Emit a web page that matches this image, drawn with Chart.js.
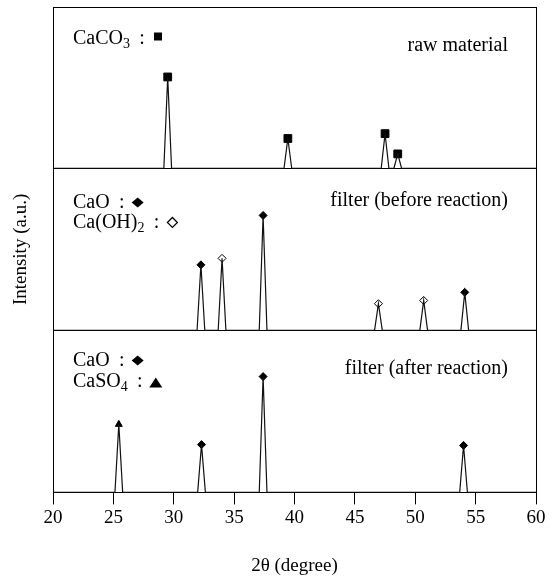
<!DOCTYPE html>
<html>
<head>
<meta charset="utf-8">
<script src="https://cdn.jsdelivr.net/npm/chart.js@4/dist/chart.umd.min.js"></script>
<style>
  body { margin: 0; background: #fff; }
  #wrap { width: 554px; height: 577px; }
</style>
</head>
<body>
<div id="wrap"><canvas id="xrd"></canvas></div>
<script>
// 2theta tick labels
const xTicks = [20, 25, 30, 35, 40, 45, 50, 55, 60];

// raw material
const rawPeaks = [29.5, 39.45, 47.5, 48.55];
const rawInt = [56.5, 18.5, 21.5, 9];
const rawPhase = ['CaCO3', 'CaCO3', 'CaCO3', 'CaCO3'];

// filter (before reaction)
const beforePeaks = [32.25, 34.0, 37.4, 46.95, 50.7, 54.1];
const beforeInt = [40.5, 44.5, 71, 16.5, 18.5, 23.5];
const beforePhase = ['CaO', 'CaOH2', 'CaO', 'CaOH2', 'CaOH2', 'CaO'];

// filter (after reaction)
const afterPeaks = [25.45, 32.3, 37.4, 54.0];
const afterInt = [42, 29.5, 71.5, 29];
const afterPhase = ['CaSO4', 'CaO', 'CaO', 'CaO'];

const FONT = '"Liberation Serif", "Times New Roman", serif';
const halfWidth = 0.32;

const markerStyle = {
  CaCO3: { pointStyle: 'rect', radius: 5.5, fill: '#000' },
  CaO: { pointStyle: 'rectRot', radius: 4, fill: '#000' },
  CaOH2: { pointStyle: 'rectRot', radius: 4, fill: '#fff' },
  CaSO4: { pointStyle: 'triangle', radius: 4, fill: '#000' }
};

function profile(pos, h) {
  const pts = [{ x: 20, y: 0 }];
  pos.forEach((p, i) => {
    pts.push({ x: p - halfWidth, y: 0 }, { x: p, y: h[i] }, { x: p + halfWidth, y: 0 });
  });
  pts.push({ x: 60, y: 0 });
  return pts;
}

function markers(pos, h, phase, axis) {
  const sets = [];
  Object.keys(markerStyle).forEach(ph => {
    const pts = [];
    pos.forEach((p, i) => { if (phase[i] == ph) pts.push({ x: p, y: h[i] }); });
    if (!pts.length) return;
    const st = markerStyle[ph];
    sets.push({
      data: pts, yAxisID: axis, showLine: false, clip: false,
      pointStyle: st.pointStyle, pointRadius: st.radius,
      pointBackgroundColor: st.fill, pointBorderColor: '#000', pointBorderWidth: 1
    });
  });
  return sets;
}

function lineSet(pos, h, axis) {
  return {
    data: profile(pos, h), yAxisID: axis, showLine: true,
    borderColor: '#111', borderWidth: 1.2, pointRadius: 0, tension: 0
  };
}

const datasets = [
  lineSet(rawPeaks, rawInt, 'yTop'),
  lineSet(beforePeaks, beforeInt, 'yMid'),
  lineSet(afterPeaks, afterInt, 'yBot')
].concat(
  markers(rawPeaks, rawInt, rawPhase, 'yTop'),
  markers(beforePeaks, beforeInt, beforePhase, 'yMid'),
  markers(afterPeaks, afterInt, afterPhase, 'yBot')
);

// panel captions; legend lines are [formula parts, symbol, baseline offset]
const panels = [
  { axis: 'yTop', name: 'raw material', nameDy: 44,
    legend: [[[['CaCO', 0], ['3', 1]], 'square', 37]] },
  { axis: 'yMid', name: 'filter (before reaction)', nameDy: 38,
    legend: [[[['CaO', 0]], 'diamond', 40], [[['Ca(OH)', 0], ['2', 1]], 'open', 60]] },
  { axis: 'yBot', name: 'filter (after reaction)', nameDy: 44,
    legend: [[[['CaO', 0]], 'diamond', 36], [[['CaSO', 0], ['4', 1]], 'triangle', 57]] }
];

function drawSymbol(ctx, kind, cx, base) {
  ctx.save();
  ctx.fillStyle = '#000';
  ctx.strokeStyle = '#000';
  ctx.lineWidth = 1.2;
  ctx.beginPath();
  if (kind == 'square') {
    ctx.rect(cx - 4, base - 11, 8, 8);
    ctx.fill();
  } else if (kind == 'diamond' || kind == 'open') {
    const cy = base - 6, w = kind == 'open' ? 5 : 6, hh = 5;
    ctx.moveTo(cx - w, cy); ctx.lineTo(cx, cy - hh); ctx.lineTo(cx + w, cy); ctx.lineTo(cx, cy + hh);
    ctx.closePath();
    if (kind == 'open') ctx.stroke(); else ctx.fill();
  } else if (kind == 'triangle') {
    ctx.moveTo(cx - 6.5, base); ctx.lineTo(cx, base - 10); ctx.lineTo(cx + 6.5, base);
    ctx.closePath();
    ctx.fill();
  }
  ctx.restore();
}

const decorations = {
  id: 'decorations',
  beforeDatasetsDraw(chart) {
    const ctx = chart.ctx, ca = chart.chartArea;
    ctx.save();
    ctx.strokeStyle = '#000';
    ctx.lineWidth = 1;
    panels.forEach(p => {
      const s = chart.scales[p.axis];
      const l = Math.round(ca.left) + 0.5, r = Math.round(ca.right) + 0.5;
      const t = Math.round(s.top) + 0.5, b = Math.round(s.bottom) + 0.5;
      ctx.strokeRect(l, t, r - l, b - t);
    });
    ctx.restore();
  },
  afterDraw(chart) {
    const ctx = chart.ctx, ca = chart.chartArea;
    ctx.save();
    ctx.fillStyle = '#000';
    ctx.textBaseline = 'alphabetic';
    panels.forEach(p => {
      const s = chart.scales[p.axis];
      ctx.font = '20px ' + FONT;
      ctx.textAlign = 'right';
      ctx.fillText(p.name, ca.right - 28, s.top + p.nameDy);
      ctx.textAlign = 'left';
      p.legend.forEach(([parts, sym, dy]) => {
        const base = s.top + dy;
        let x = ca.left + 20;
        parts.forEach(([txt, sub]) => {
          ctx.font = (sub ? '14px ' : '20px ') + FONT;
          ctx.fillText(txt, x, base + (sub ? 4 : 0));
          x += ctx.measureText(txt).width;
        });
        ctx.font = '20px ' + FONT;
        ctx.textAlign = 'center';
        ctx.fillText(':', x + 12, base);
        ctx.textAlign = 'left';
        drawSymbol(ctx, sym, x + 28, base);
      });
    });
    // y axis title
    ctx.font = '19px ' + FONT;
    ctx.textAlign = 'center';
    ctx.textBaseline = 'middle';
    const mid = chart.scales.yMid;
    ctx.translate(21, (mid.top + mid.bottom) / 2);
    ctx.rotate(-Math.PI / 2);
    ctx.fillText('Intensity (a.u.)', 0, 0);
    ctx.restore();
  }
};

const yPanel = {
  type: 'linear', position: 'left', stack: 'xrd', stackWeight: 1,
  min: 0, max: 100, display: false
};

new Chart(document.getElementById('xrd'), {
  type: 'scatter',
  data: { datasets: datasets },
  options: {
    responsive: true,
    maintainAspectRatio: false,
    animation: false,
    events: [],
    layout: { padding: { left: 53, right: 18, top: 5, bottom: 0 } },
    plugins: { legend: { display: false }, tooltip: { enabled: false } },
    scales: {
      x: {
        type: 'linear', min: 20, max: 60,
        afterBuildTicks: s => { s.ticks = xTicks.map(v => ({ value: v })); },
        grid: { display: true, drawOnChartArea: false, drawTicks: true, tickLength: 12, color: '#000', lineWidth: 1 },
        border: { display: true, color: '#000', width: 1 },
        ticks: { color: '#000', font: { family: FONT, size: 19 }, padding: 2, maxRotation: 0 },
        title: { display: true, text: '2θ (degree)', color: '#000', font: { family: FONT, size: 19 }, padding: { top: 23, bottom: 0 } }
      },
      yBot: Object.assign({}, yPanel),
      yMid: Object.assign({}, yPanel),
      yTop: Object.assign({}, yPanel)
    }
  },
  plugins: [decorations]
});
</script>
</body>
</html>
